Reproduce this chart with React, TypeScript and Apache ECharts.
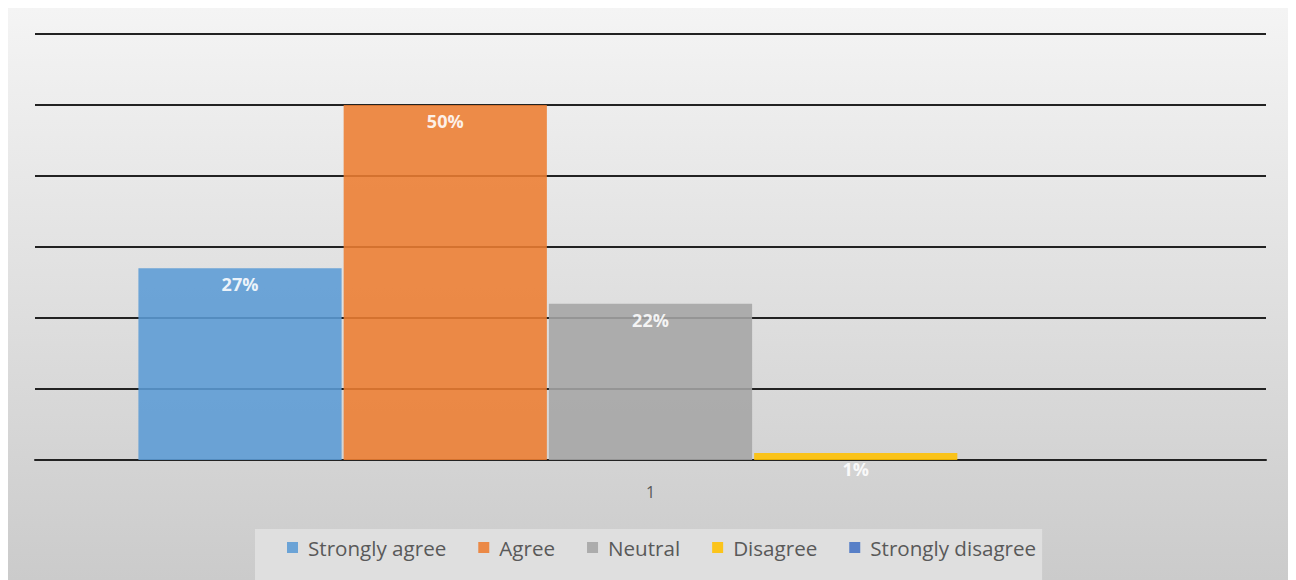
import React, { useEffect, useRef } from "react";
import * as echarts from "echarts";

// Survey responses, in percent, for the single question group "1"
const categories = ["1"];
const seriesNames = ["Strongly agree", "Agree", "Neutral", "Disagree", "Strongly disagree"];
const seriesValues = [27, 50, 22, 1, 0];
const seriesColors = ["#5B9BD5", "#ED7D31", "#A5A5A5", "#FFC000", "#4472C4"];

const FONT = "'Open Sans', 'Noto Sans', sans-serif";

export default function App() {
  const ref = useRef<HTMLDivElement>(null);

  useEffect(() => {
    if (!ref.current) return;
    const chart = echarts.init(ref.current, undefined, { renderer: "svg" });

    const series = seriesNames.map((name, i) => ({
      name,
      type: "bar" as const,
      data: [seriesValues[i]],
      barGap: "1%",
      barCategoryGap: "16.8%",
      itemStyle: { color: seriesColors[i], opacity: 0.88 },
      label: {
        show: true,
        position: "insideTop" as const,
        distance: 7,
        // empty answers get no label
        formatter: (p: any) => (p.value > 0 ? `${p.value}%` : ""),
        color: "#ffffff",
        fontFamily: FONT,
        fontWeight: "bold" as const,
        fontSize: 18,
      },
    }));

    chart.setOption({
      animation: false,
      backgroundColor: new echarts.graphic.LinearGradient(0, 0, 0, 1, [
        { offset: 0, color: "#f4f4f4" },
        { offset: 1, color: "#cbcbcb" },
      ]),
      grid: { left: 27, right: 22, top: 26, bottom: 120, containLabel: false },
      xAxis: {
        type: "category",
        data: categories,
        axisTick: { show: false },
        axisLine: { show: true, lineStyle: { color: "#222222", width: 2 } },
        axisLabel: {
          margin: 24,
          color: "#595959",
          fontFamily: FONT,
          fontSize: 16,
        },
      },
      yAxis: {
        type: "value",
        min: 0,
        max: 60,
        interval: 10,
        axisLabel: { show: false },
        axisLine: { show: false },
        axisTick: { show: false },
        splitLine: { show: true, lineStyle: { color: "#222222", width: 2 } },
      },
      legend: {
        data: seriesNames,
        left: 247,
        top: 521,
        padding: [8, 6, 30, 32],
        backgroundColor: "#dfdfdf",
        itemWidth: 11,
        itemHeight: 11,
        itemGap: 32,
        icon: "rect",
        textStyle: {
          color: "#595959",
          fontFamily: FONT,
          fontSize: 20.6,
          padding: [0, 0, 0, 5],
        },
      },
      series,
    });

    return () => chart.dispose();
  }, []);

  return <div ref={ref} style={{ width: 1280, height: 572 }} />;
}
